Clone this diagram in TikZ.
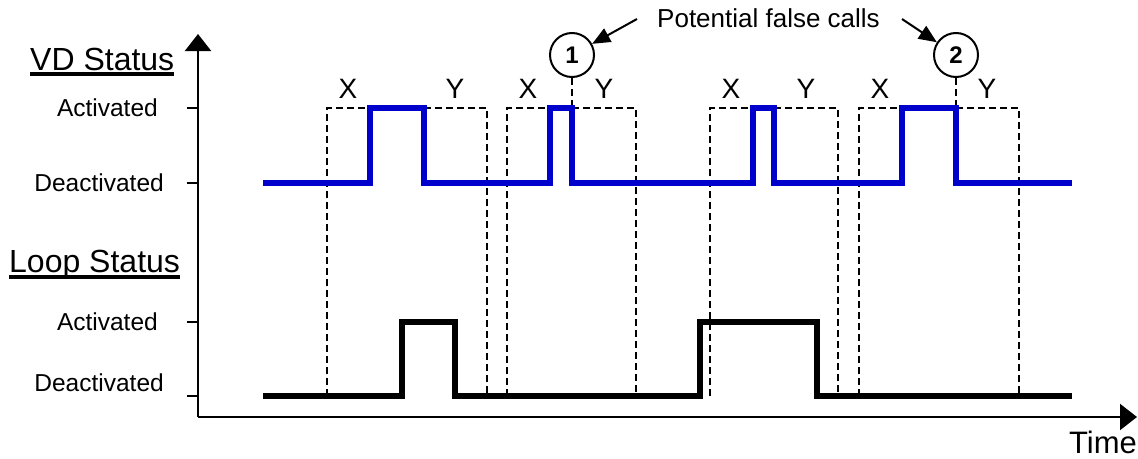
\documentclass[tikz,border=0pt]{standalone}
\usepackage{fontspec}
\setmainfont{Liberation Sans}
\usetikzlibrary{arrows.meta}
\definecolor{vdblue}{RGB}{0,0,204}
\begin{document}
\begin{tikzpicture}[x=1pt,y=-1pt,
  axis/.style={line width=2.2pt,-{Triangle[length=17pt,width=26pt]}},
  tick/.style={line width=2.2pt},
  vdsig/.style={line width=5.5pt,draw=vdblue},
  loopsig/.style={line width=5.5pt,draw=black},
  guide/.style={line width=1.8pt,dash pattern=on 7pt off 4pt},
  lvl/.style={font=\fontsize{24.5}{28}\selectfont,anchor=east,inner sep=0pt},
  head/.style={font=\fontsize{32}{36}\selectfont,anchor=base west,inner sep=0pt},
  xy/.style={font=\fontsize{28}{30}\selectfont,anchor=base,inner sep=0pt},
  num/.style={circle,draw,line width=2pt,minimum size=44pt,inner sep=0pt,font=\fontsize{24}{26}\selectfont\bfseries},
  callout/.style={line width=2pt,-{Triangle[length=18pt,width=15pt]}},
  uline/.style={line width=3.5pt}
]
\useasboundingbox (0,0) rectangle (1138,458);

% headings
\node[head] (vdh) at (30,70) {VD Status};
\draw[uline] ([yshift=-4pt]vdh.base west) -- ([yshift=-4pt]vdh.base east);
\node[head] (lph) at (9,272) {Loop Status};
\draw[uline] ([yshift=-5pt]lph.base west) -- ([yshift=-5pt]lph.base east);

% level labels
\node[lvl] (vda) at (158,108) {Activated};
\node[lvl] (vdd) at (164,183) {Deactivated};
\node[lvl] (lpa) at (158,322) {Activated};
\node[lvl] (lpd) at (164,383) {Deactivated};

% axes
\coordinate (O) at (198,417);
\coordinate (ytop) at (198,34);
\coordinate (xend) at (1137,417);
\draw[axis] (O) -- (ytop);
\draw[axis] (O) -- (xend);
\node[font=\fontsize{31}{34}\selectfont,anchor=base east,inner sep=0pt] (time) at (1137,453) {Time};

% ticks
\draw[tick] (187,108) -- (198,108);
\draw[tick] (187,183) -- (198,183);
\draw[tick] (187,322) -- (198,322);
\draw[tick] (187,396) -- (198,396);

% circles and callouts
\node[num] (c1) at (572,55) {1};
\node[num] (c2) at (956,55) {2};
\node[font=\fontsize{26}{30}\selectfont,anchor=base west,inner sep=0pt] (pfc) at (657,27) {Potential false calls};
\coordinate (a1) at (637,19);
\coordinate (a2) at (902,19);
\draw[callout] (a1) -- (c1);
\draw[callout] (a2) -- (c2);

% dashed guides
\draw[guide] (327,396) -- (327,108) -- (370,108);
\draw[guide] (424,108) -- (487,108) -- (487,396);
\draw[guide] (507,396) -- (507,108) -- (550,108);
\draw[guide] (572,108) -- (636,108) -- (636,396);
\draw[guide] (710,396) -- (710,108) -- (753,108);
\draw[guide] (774,108) -- (838,108) -- (838,396);
\draw[guide] (859,396) -- (859,108) -- (902,108);
\draw[guide] (956,108) -- (1019,108) -- (1019,396);
\draw[guide] (c1) -- (572,108);
\draw[guide] (c2) -- (956,108);

% X / Y labels
\node[xy] (x1) at (348,98) {X};
\node[xy] (y1) at (455,98) {Y};
\node[xy] (x2) at (528,98) {X};
\node[xy] (y2) at (604,98) {Y};
\node[xy] (x3) at (731,98) {X};
\node[xy] (y3) at (806,98) {Y};
\node[xy] (x4) at (880,98) {X};
\node[xy] (y4) at (987,98) {Y};

% signals
\draw[vdsig] (263,183) -- (370,183) -- (370,108) -- (424,108) -- (424,183)
  -- (550,183) -- (550,108) -- (572,108) -- (572,183)
  -- (753,183) -- (753,108) -- (774,108) -- (774,183)
  -- (902,183) -- (902,108) -- (956,108) -- (956,183) -- (1072,183);
\draw[loopsig] (263,396) -- (402,396) -- (402,322) -- (455,322) -- (455,396)
  -- (700,396) -- (700,322) -- (817,322) -- (817,396) -- (1072,396);
\end{tikzpicture}
\end{document}
